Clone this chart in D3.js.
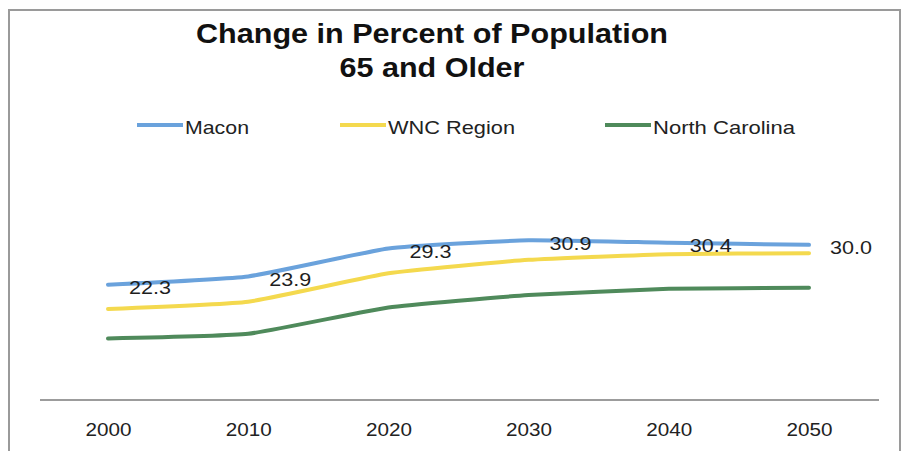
<!DOCTYPE html>
<html><head><meta charset="utf-8">
<script src="https://cdn.jsdelivr.net/npm/d3@7"></script>
<style>
html,body{margin:0;padding:0;background:#fff;}
text{font-family:Arial,"Liberation Sans",sans-serif;fill:#222;}
</style></head>
<body>
<svg id="chart" width="905" height="451"></svg>
<script>
const years = [2000, 2010, 2020, 2030, 2040, 2050];
const macon = [22.3, 23.9, 29.3, 30.9, 30.4, 30.0];
const wnc = [17.6, 19.0, 24.5, 27.1, 28.2, 28.4];
const northCarolina = [11.9, 12.8, 17.9, 20.3, 21.5, 21.7];
const seriesNames = ["Macon", "WNC Region", "North Carolina"];
const titleLines = ["Change in Percent of Population", "65 and Older"];

const colors = ["#6aa2dc", "#f4d94e", "#4f8a5b"];
const seriesValues = [macon, wnc, northCarolina];

const svg = d3.select("#chart");

// frame
svg.append("path")
  .attr("d", "M9,460 L9,10 L900,10 L900,460")
  .attr("fill", "none").attr("stroke", "#9a9a9a").attr("stroke-width", 2);

// title
const titleY = [43, 77], titleW = [472, 185];
titleLines.forEach((t, i) => {
  svg.append("text").attr("x", 432).attr("y", titleY[i])
    .attr("text-anchor", "middle").attr("font-size", 27).attr("font-weight", "bold")
    .attr("textLength", titleW[i]).attr("lengthAdjust", "spacingAndGlyphs")
    .style("fill", "#111").text(t);
});

// scales
const x = d3.scalePoint().domain(years).range([108, 809]);
const y = d3.scaleLinear().domain([0, 35]).range([400, 219]);

// x axis
const axisG = svg.append("g").attr("transform", "translate(0,400)")
  .call(d3.axisBottom(x).tickSize(0).tickPadding(0).tickFormat(d3.format("d")));
axisG.select(".domain").remove();
axisG.selectAll("text").attr("font-size", 18).attr("y", 36).attr("dy", 0)
  .attr("font-family", "Arial, 'Liberation Sans', sans-serif")
  .attr("textLength", 46).attr("lengthAdjust", "spacingAndGlyphs")
  .style("fill", "#222");
svg.append("line").attr("x1", 40).attr("x2", 879).attr("y1", 400).attr("y2", 400)
  .attr("stroke", "#9c9c9c").attr("stroke-width", 2);

// lines
const line = d3.line().x((d, i) => x(years[i])).y(d => y(d)).curve(d3.curveCardinal.tension(0.6));
seriesValues.forEach((vals, s) => {
  svg.append("path").datum(vals).attr("d", line)
    .attr("fill", "none").attr("stroke", colors[s]).attr("stroke-width", 4)
    .attr("stroke-linecap", "round").attr("stroke-linejoin", "round");
});

// data labels for Macon
svg.append("g").selectAll("text").data(macon).join("text")
  .attr("x", (d, i) => x(years[i]) + 42)
  .attr("y", d => y(d) + 9.5)
  .attr("text-anchor", "middle").attr("font-size", 18.5)
  .attr("textLength", 42).attr("lengthAdjust", "spacingAndGlyphs")
  .style("fill", "#1e1e1e")
  .text(d => d.toFixed(1));

// legend
const legX = [137, 340, 605], legTextW = [64, 127, 142];
seriesNames.forEach((n, i) => {
  svg.append("line").attr("x1", legX[i]).attr("x2", legX[i] + 46)
    .attr("y1", 125).attr("y2", 125)
    .attr("stroke", colors[i]).attr("stroke-width", 4);
  svg.append("text").attr("x", legX[i] + 48).attr("y", 134)
    .attr("font-size", 19)
    .attr("textLength", legTextW[i]).attr("lengthAdjust", "spacingAndGlyphs")
    .text(n);
});
</script>
</body></html>
